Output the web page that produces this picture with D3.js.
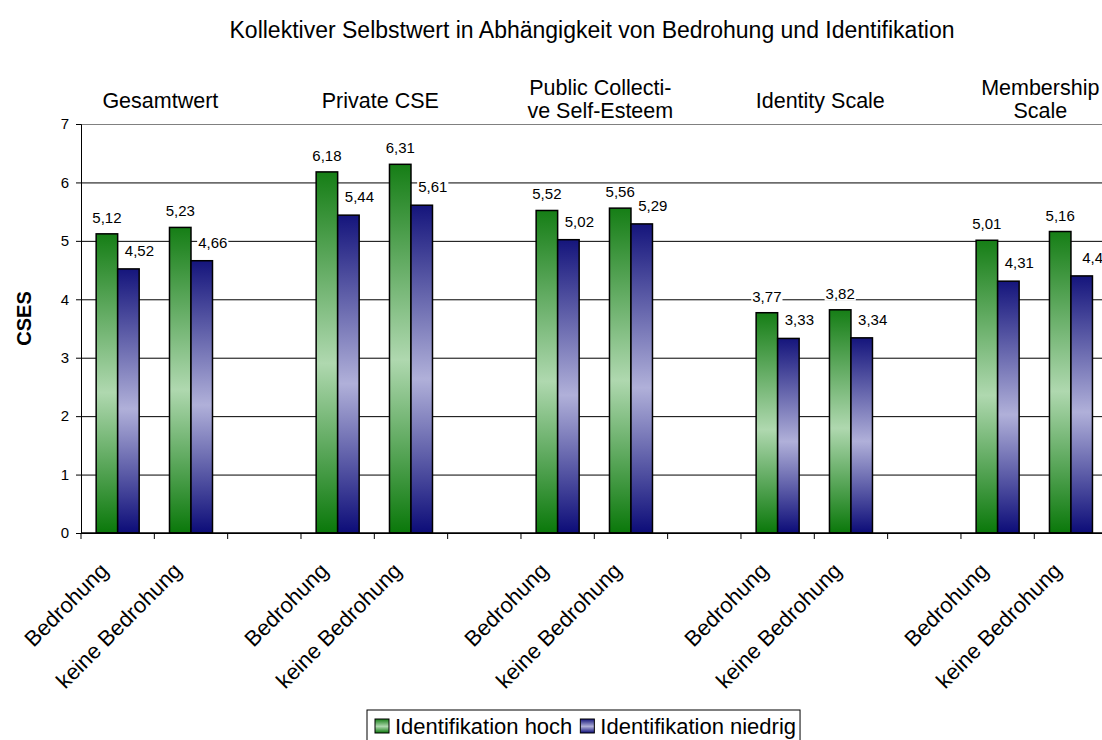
<!DOCTYPE html>
<html><head><meta charset="utf-8">
<script src="https://cdn.jsdelivr.net/npm/d3@7"></script>
<style>
html,body{margin:0;padding:0;background:#fff;}
svg{display:block;font-family:"Liberation Sans",Arial,sans-serif;}
</style></head>
<body><svg id="c" width="1102" height="740"></svg>
<script>
const title = "Kollektiver Selbstwert in Abhängigkeit von Bedrohung und Identifikation";
const yTitle = "CSES";
const groupNames = [["Gesamtwert"], ["Private CSE"], ["Public Collecti-", "ve Self-Esteem"], ["Identity Scale"], ["Membership", "Scale"]];
const categories = ["Bedrohung", "keine Bedrohung", "", "Bedrohung", "keine Bedrohung", "", "Bedrohung", "keine Bedrohung", "", "Bedrohung", "keine Bedrohung", "", "Bedrohung", "keine Bedrohung"];
const seriesNames = ["Identifikation hoch", "Identifikation niedrig"];
const hoch    = [5.12, 5.23, null, 6.18, 6.31, null, 5.52, 5.56, null, 3.77, 3.82, null, 5.01, 5.16];
const niedrig = [4.52, 4.66, null, 5.44, 5.61, null, 5.02, 5.29, null, 3.33, 3.34, null, 4.31, 4.40];
const yTicks = [0, 1, 2, 3, 4, 5, 6, 7];

const svg = d3.select("#c");
const pLeft = 81, pTop = 124, pBottom = 533, slot = 73.33;
const pRight = pLeft + slot * categories.length;

const x = d3.scaleBand().domain(d3.range(categories.length)).range([pLeft, pRight]).padding(0);
const x1 = d3.scaleBand().domain([0, 1]).range([0, x.bandwidth()]).paddingInner(0).paddingOuter(0.705);
const y = d3.scaleLinear().domain([0, 7]).range([pBottom, pTop]);

// gradients
const defs = svg.append("defs");
function grad(id, dark, light, dark2) {
  const g = defs.append("linearGradient").attr("id", id).attr("x1", 0).attr("y1", 0).attr("x2", 0).attr("y2", 1);
  g.append("stop").attr("offset", "0%").attr("stop-color", dark);
  g.append("stop").attr("offset", "53%").attr("stop-color", light);
  g.append("stop").attr("offset", "100%").attr("stop-color", dark2);
}
grad("gG", "#167e16", "#afd8af", "#0a780a");
grad("gB", "#15157c", "#b0b0d9", "#0c0c78");
const fills = ["url(#gG)", "url(#gB)"];

// title
svg.append("text").attr("x", 592).attr("y", 38).attr("text-anchor", "middle")
  .attr("font-size", 23).text(title);

// gridlines
svg.append("g").attr("transform", `translate(${pLeft},0)`)
  .call(d3.axisLeft(y).tickValues(yTicks).tickSize(-(pRight - pLeft)).tickFormat(""))
  .call(g => g.select(".domain").remove())
  .call(g => g.selectAll("line").attr("stroke", "#000").attr("stroke-width", 1))
  .call(g => g.selectAll("line").filter(d => d === 7).attr("stroke", "#808080"));

// y axis
svg.append("g").attr("transform", `translate(${pLeft},0)`)
  .call(d3.axisLeft(y).tickValues(yTicks).tickSize(5).tickPadding(7).tickFormat(d3.format("d")))
  .call(g => g.select(".domain").attr("stroke", "#000"))
  .call(g => g.selectAll("text").attr("font-size", 15).attr("fill", "#000").attr("font-family", "Liberation Sans, Arial, sans-serif"))
  .call(g => g.selectAll("line").attr("stroke", "#000"));

// y title
svg.append("text").attr("transform", `translate(31,${(pTop + pBottom) / 2 - 10}) rotate(-90)`)
  .attr("text-anchor", "middle").attr("font-size", 20).attr("font-weight", "bold").text(yTitle);

// bars
const series = [hoch, niedrig];
series.forEach((vals, si) => {
  svg.append("g").selectAll("rect").data(vals.map((v, i) => ({v, i})).filter(d => d.v != null))
    .join("rect")
    .attr("x", d => x(d.i) + x1(si))
    .attr("y", d => y(d.v))
    .attr("width", x1.bandwidth())
    .attr("height", d => y(0) - y(d.v))
    .attr("fill", fills[si])
    .attr("stroke", "#000").attr("stroke-width", 1.5);
});

// x axis line and ticks
svg.append("line").attr("x1", pLeft).attr("x2", pRight).attr("y1", y(0)).attr("y2", y(0)).attr("stroke", "#000").attr("stroke-width", 1.5);
const bounds = categories.map((c, i) => x(i)).concat([pRight]);
svg.append("g").selectAll("line").data(bounds).join("line")
  .attr("x1", d => d).attr("x2", d => d).attr("y1", y(0)).attr("y2", y(0) + 6).attr("stroke", "#000");

// x labels
svg.append("g").selectAll("text").data(categories.map((c, i) => ({c, i})).filter(d => d.c))
  .join("text")
  .attr("text-anchor", "end").attr("font-size", 22)
  .attr("transform", d => `translate(${x(d.i) + x.bandwidth() / 2 - 8},572) rotate(-45)`)
  .text(d => d.c);

// value labels
const lblG = svg.append("g");
series.forEach((vals, si) => {
  vals.forEach((v, i) => {
    if (v == null) return;
    const cx = x(i) + x1(si) + x1.bandwidth() / 2 + (si === 1 ? 11 : 0);
    const by = y(v) - (si === 1 ? 13 : 11);
    const t = lblG.append("text").attr("x", cx).attr("y", by).attr("text-anchor", "middle")
      .attr("font-size", 15).text(String(v).replace(".", ","));
    const bb = t.node().getBBox();
    lblG.insert("rect", () => t.node()).attr("x", bb.x - 1).attr("y", bb.y + 2).attr("width", bb.width + 2).attr("height", bb.height - 3).attr("fill", "#fff");
  });
});

// group headers
groupNames.forEach((lines, gi) => {
  const cx = x(gi * 3 + 1) + 6;
  const n = lines.length;
  lines.forEach((ln, li) => {
    svg.append("text").attr("x", cx).attr("y", n === 1 ? 108 : 95 + li * 23)
      .attr("text-anchor", "middle").attr("font-size", 21.5).text(ln);
  });
});

// legend
const leg = svg.append("g").attr("transform", "translate(367,710)");
const legRect = leg.append("rect").attr("x", 0).attr("y", 0).attr("height", 32).attr("fill", "#fff").attr("stroke", "#000");
let lx = 8;
seriesNames.forEach((s, si) => {
  leg.append("rect").attr("x", lx).attr("y", 9).attr("width", 14).attr("height", 14)
    .attr("fill", fills[si]).attr("stroke", "#000");
  const t = leg.append("text").attr("x", lx + 20).attr("y", 24).attr("font-size", 22).text(s);
  lx += 20 + t.node().getComputedTextLength() + 8;
});
legRect.attr("width", lx - 4);
</script></body></html>
